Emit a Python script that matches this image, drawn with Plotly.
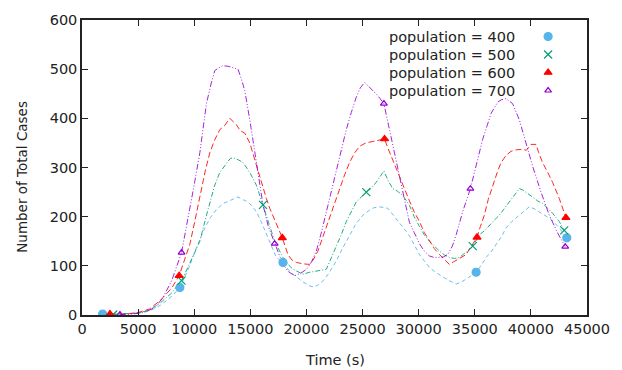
import plotly.graph_objects as go

# ---------------- data ----------------
pop400_t = [1840, 3000, 4000, 5000, 6000, 7000, 8000, 8720, 9500, 10200, 10800, 11400, 12000, 12600, 13200, 13900,
            14400, 14800, 15200, 15550, 16000, 16430, 16900, 17320, 17910, 18400, 18800, 19300, 19700, 20200, 20600,
            21000, 21500, 22000, 22660, 23200, 23840, 24400, 25030, 25600, 26000, 26500, 27250, 27600, 28000, 28500,
            28900, 29200, 29780, 30070, 30500, 30960, 31500, 32150, 32700, 33340, 33800, 34230, 34700, 35120, 35600,
            36010, 36500, 36900, 37400, 37780, 38300, 38970, 39400, 39860, 40300, 40750, 41200, 41640, 42100, 42530,
            43000, 43200]
pop400_v = [2, 2, 3, 4, 8, 20, 38, 56, 95, 137, 170, 197, 215, 227, 233, 240,
            234, 230, 220, 210, 188, 164, 140, 117, 107, 92, 83, 74, 67, 60, 57,
            60, 70, 85, 110, 135, 163, 185, 203, 213, 218, 220, 217, 207, 197, 183,
            170, 160, 137, 123, 110, 97, 87, 77, 70, 63, 67, 73, 80, 87, 102,
            117, 130, 143, 160, 177, 190, 203, 212, 220, 216, 210, 204, 197, 188, 177,
            162, 157]

pop500_t = [2780, 4000, 5000, 6000, 7000, 8000, 8870, 9500, 10000, 10500, 11000, 11390, 11800, 12280, 12800, 13200,
            13460, 13900, 14350, 14700, 14950, 15540, 16130, 16730, 17170, 17900, 18400, 18800, 19300, 19690, 20300,
            20880, 21300, 21770, 22200, 22660, 23100, 23550, 24000, 24440, 25330, 25800, 26220, 26600, 26900, 27300,
            27700, 28100, 28590, 29180, 29600, 30070, 30500, 30960, 31400, 31850, 32300, 32740, 33200, 33630, 34000,
            34370, 34820, 35410, 35900, 36300, 36700, 37190, 37600, 38080, 38500, 38970, 39300, 39560, 39900, 40150,
            40600, 41040, 41500, 41930, 42530, 42970]
pop500_v = [1, 2, 4, 10, 25, 45, 70, 100, 125, 150, 195, 230, 262, 290, 305, 318,
            320, 316, 310, 298, 290, 264, 224, 184, 150, 117, 102, 93, 87, 83, 87,
            90, 91, 93, 115, 137, 163, 190, 210, 230, 250, 258, 270, 283, 293, 272,
            257, 252, 243, 223, 200, 180, 163, 150, 140, 130, 122, 117, 115, 117, 124,
            130, 140, 163, 172, 183, 192, 203, 215, 230, 243, 257, 254, 250, 245, 240,
            232, 227, 217, 207, 190, 172]

pop600_t = [2490, 4000, 5000, 6000, 7000, 8000, 8660, 9100, 9610, 10000, 10500, 11000, 11390, 11800, 12280, 12700,
            13170, 13500, 13760, 14100, 14500, 14950, 15540, 16000, 16430, 16730, 17320, 17850, 18350, 18700, 19100,
            19700, 20280, 20600, 21020, 21500, 22060, 22500, 22950, 23400, 23840, 24300, 24730, 25300, 25920, 26400,
            26960, 27250, 27550, 28140, 28590, 29180, 29600, 30070, 30500, 30960, 31400, 31850, 32300, 32740, 33100,
            33480, 33900, 34230, 34700, 35200, 35500, 35850, 36200, 36590, 37000, 37340, 37800, 38230, 38700, 39260,
            39600, 40010, 40450, 40700, 41040, 41500, 41930, 42530, 43120]
pop600_v = [2, 2, 5, 12, 30, 55, 80, 110, 144, 185, 244, 295, 330, 355, 377, 385,
            400, 392, 387, 375, 370, 350, 304, 268, 237, 217, 184, 157, 123, 112, 107,
            104, 103, 112, 130, 162, 197, 228, 257, 285, 310, 330, 343, 350, 353, 355,
            358, 340, 323, 290, 262, 232, 210, 190, 168, 150, 135, 123, 112, 103, 108,
            113, 117, 123, 140, 158, 180, 203, 235, 263, 290, 310, 325, 333, 336, 337,
            335, 347, 347, 330, 310, 290, 270, 237, 198]

pop700_t = [3380, 4500, 5500, 6500, 7200, 8000, 8870, 9500, 10000, 10500, 11090, 11500, 11830, 12200, 12540, 13000,
            13430, 13900, 14200, 14500, 14950, 15540, 16130, 16600, 17170, 17900, 18400, 18950, 19500, 20000, 20450,
            20880, 21300, 21770, 22200, 22660, 23100, 23550, 24000, 24440, 24800, 25180, 25500, 25920, 26400, 26900,
            27400, 28000, 28590, 29180, 29600, 30070, 30500, 30960, 31400, 31850, 32200, 32590, 33000, 33340, 33920,
            34610, 35120, 35700, 36100, 36450, 37040, 37400, 37780, 38370, 38970, 39560, 40150, 40900, 41640, 42380,
            43060]
pop700_v = [1, 2, 5, 15, 35, 70, 127, 200, 265, 330, 430, 470, 497, 503, 507, 506,
            503, 500, 480, 457, 397, 310, 224, 180, 145, 103, 88, 80, 85, 93, 108,
            130, 165, 210, 250, 290, 335, 377, 412, 443, 462, 473, 466, 457, 445, 430,
            377, 317, 257, 188, 168, 145, 130, 120, 117, 117, 118, 123, 140, 163, 210,
            257, 303, 357, 385, 410, 433, 438, 440, 430, 397, 350, 303, 250, 203, 167,
            139]

# marker samples
pop400_mt = [1840, 8720, 17910, 35120, 43200]
pop400_mv = [2, 56, 107, 87, 157]
pop500_mt = [2780, 8870, 16130, 25330, 34820, 42970]
pop500_mv = [1, 70, 224, 250, 140, 172]
pop600_mt = [2490, 8660, 17850, 26960, 35200, 43120]
pop600_mv = [2, 80, 157, 358, 158, 198]
pop700_mt = [3380, 8870, 17170, 26900, 34610, 43060]
pop700_mv = [1, 127, 145, 430, 257, 139]

labels = ["population = 400", "population = 500", "population = 600", "population = 700"]
x_ticks = [0, 5000, 10000, 15000, 20000, 25000, 30000, 35000, 40000, 45000]
y_ticks = [0, 100, 200, 300, 400, 500, 600]

# ---------------- styles ----------------
colors = ["#56b4e9", "#009e73", "#ff0000", "#9400d3"]
dashes = ["4px,3px", "5px,2px,1px,2px", "6px,3px", "6px,2px,1px,2px,1px,2px"]
symbols = ["circle", "x-thin-open", "triangle-up", "triangle-up-open"]
msizes = [8, 8, 7, 6]

series = [(pop400_t, pop400_v, pop400_mt, pop400_mv),
          (pop500_t, pop500_v, pop500_mt, pop500_mv),
          (pop600_t, pop600_v, pop600_mt, pop600_mv),
          (pop700_t, pop700_v, pop700_mt, pop700_mv)]

FONT = "DejaVu Sans"
TXT = "#222222"
FS = 14.5

fig = go.Figure()
for i, (t, v, mt, mv) in enumerate(series):
    fig.add_trace(go.Scatter(x=t, y=v, mode="lines", showlegend=False,
                             line=dict(color=colors[i], width=1, dash=dashes[i]), opacity=0.85))
for i, (t, v, mt, mv) in enumerate(series):
    fig.add_trace(go.Scatter(x=mt, y=mv, mode="markers", showlegend=False,
                             marker=dict(color=colors[i], symbol=symbols[i], size=msizes[i],
                                         line=dict(color=colors[i], width=1.2))))

# custom key: text on left, marker on right (gnuplot style)
key_y = [0.944, 0.883, 0.822, 0.761]
for i in range(4):
    fig.add_trace(go.Scatter(x=[0.923], y=[key_y[i]], xaxis="x2", yaxis="y2", mode="markers",
                             showlegend=False, hoverinfo="skip",
                             marker=dict(color=colors[i], symbol=symbols[i], size=msizes[i],
                                         line=dict(color=colors[i], width=1.2))))
    fig.add_annotation(x=0.862, y=key_y[i], xref="paper", yref="paper", text=labels[i],
                       showarrow=False, xanchor="right", yanchor="middle",
                       font=dict(family=FONT, size=FS, color=TXT))

fig.add_annotation(x=0.5, y=-0.153, xref="paper", yref="paper", text="Time (s)", showarrow=False,
                   xanchor="center", yanchor="middle", font=dict(family=FONT, size=FS, color=TXT))
fig.add_annotation(x=-0.118, y=0.47, xref="paper", yref="paper", text="Number of Total Cases",
                   showarrow=False, textangle=-90, xanchor="center", yanchor="middle",
                   font=dict(family=FONT, size=13.5, color=TXT))

axis_common = dict(showgrid=False, zeroline=False, showline=True, linecolor="#222222", linewidth=1.5,
                   mirror="ticks", ticks="inside", ticklen=6, tickcolor="#222222", tickwidth=1,
                   tickfont=dict(family=FONT, size=FS, color=TXT))
fig.update_layout(
    width=622, height=370,
    margin=dict(l=82, r=34, t=15, b=55),
    paper_bgcolor="white", plot_bgcolor="white",
    xaxis=dict(range=[0, 45000], tickvals=x_ticks, ticktext=[str(v) for v in x_ticks], **axis_common),
    yaxis=dict(range=[0, 600], tickvals=y_ticks, ticktext=[str(v) for v in y_ticks], **axis_common),
    xaxis2=dict(range=[0, 1], overlaying="x", visible=False, fixedrange=True),
    yaxis2=dict(range=[0, 1], overlaying="y", visible=False, fixedrange=True),
)
fig.write_html("out.html", config={"displayModeBar": False},
               post_script="document.body.style.margin='0px';document.body.style.overflow='hidden';")
